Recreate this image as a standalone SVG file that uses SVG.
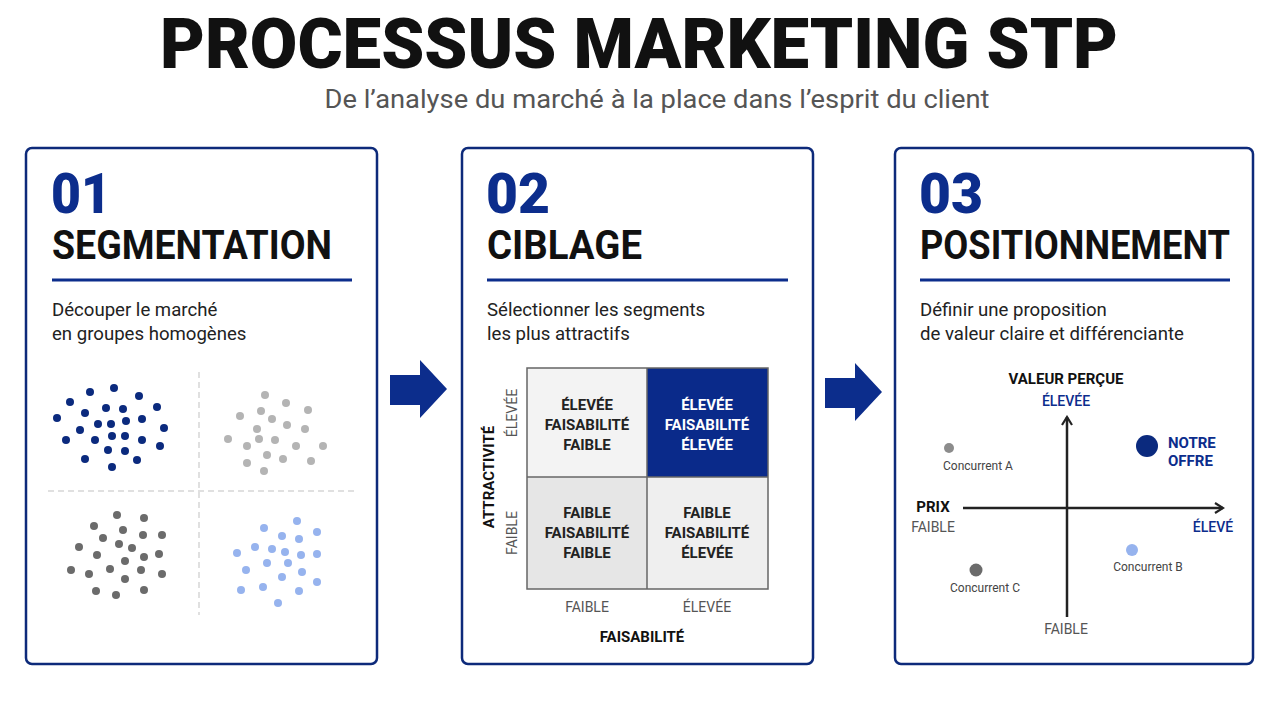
<svg xmlns="http://www.w3.org/2000/svg" width="1280" height="702" viewBox="0 0 1280 702">
<defs>
<style>
.panel{fill:#ffffff;stroke:#0d2a7a;stroke-width:2.5}
.num{font-family:Roboto,"Liberation Sans",sans-serif;font-weight:900;font-size:56px;fill:#0c2d8c}
.head{font-family:Roboto,"Liberation Sans",sans-serif;font-weight:700;font-size:40px;fill:#111}
.rule{stroke:#0c2d8c;stroke-width:3}
.desc{font-family:Roboto,"Liberation Sans",sans-serif;font-size:18.6px;fill:#222}
.cell{font-family:Roboto,"Liberation Sans",sans-serif;font-weight:700;font-size:15px;fill:#222;text-anchor:middle}
.cellw{font-family:Roboto,"Liberation Sans",sans-serif;font-weight:700;font-size:15px;fill:#ffffff;text-anchor:middle}
.ax{font-family:Roboto,"Liberation Sans",sans-serif;font-size:14px;fill:#555;text-anchor:middle}
.axb{font-family:Roboto,"Liberation Sans",sans-serif;font-weight:700;font-size:15px;fill:#111;text-anchor:middle}
.axn{font-family:Roboto,"Liberation Sans",sans-serif;font-weight:500;font-size:14px;fill:#0c2d8c;text-anchor:middle}
.lbl{font-family:Roboto,"Liberation Sans",sans-serif;font-size:12px;fill:#444;text-anchor:middle}
.dash{stroke:#d6d6d6;stroke-width:1.5;stroke-dasharray:6 4}
.d1{fill:#0b2a7e}.d2{fill:#b4b4b4}.d3{fill:#6b6b6b}.d4{fill:#96b3ee}
.arrow{fill:#0c2d8c}
.axis{stroke:#222;stroke-width:2.5;fill:none}
</style>
<marker id="chev" viewBox="0 0 12 12" refX="10" refY="6" markerWidth="12" markerHeight="12" markerUnits="userSpaceOnUse" orient="auto">
<path d="M2,1 L10,6 L2,11" fill="none" stroke="#222" stroke-width="2.2"/>
</marker>
</defs>
<rect width="1280" height="702" fill="#ffffff"/>

<g id="title">
<text x="160" y="68" font-family="Roboto,'Liberation Sans',sans-serif" font-weight="900" font-size="71" fill="#111" textLength="958" lengthAdjust="spacingAndGlyphs">PROCESSUS MARKETING STP</text>
<text x="657" y="108" font-family="Roboto,'Liberation Sans',sans-serif" font-size="25" fill="#555" text-anchor="middle" textLength="665" lengthAdjust="spacingAndGlyphs">De l’analyse du marché à la place dans l’esprit du client</text>
</g>

<g id="connectors">
<path class="arrow" d="M390,375 H420 V360 L447,389 L420,418 V405 H390 Z"/>
<path class="arrow" d="M825,378 H855 V363 L882,392 L855,421 V408 H825 Z"/>
</g>

<g id="segmentation">
<rect class="panel" x="26" y="148" width="351" height="516" rx="6"/>
<text class="num" x="51" y="213" textLength="60" lengthAdjust="spacingAndGlyphs">01</text>
<text class="head" x="52" y="259" textLength="280" lengthAdjust="spacingAndGlyphs">SEGMENTATION</text>
<line class="rule" x1="52" y1="280" x2="352" y2="280"/>
<text class="desc" x="52" y="316">Découper le marché</text>
<text class="desc" x="52" y="340">en groupes homogènes</text>
<line class="dash" x1="199" y1="372" x2="199" y2="615"/>
<line class="dash" x1="48" y1="491" x2="355" y2="491"/>
<g class="d1">
<circle cx="90" cy="392" r="4"/><circle cx="114" cy="388" r="4"/><circle cx="139" cy="396" r="4"/><circle cx="70" cy="402" r="4"/><circle cx="157" cy="407" r="4"/><circle cx="85" cy="413" r="4"/><circle cx="106" cy="408" r="4"/><circle cx="123" cy="409" r="4"/><circle cx="57" cy="418" r="4"/><circle cx="142" cy="419" r="4"/><circle cx="126" cy="421" r="4"/><circle cx="98" cy="424" r="4"/><circle cx="111" cy="424" r="4"/><circle cx="80" cy="430" r="4"/><circle cx="164" cy="428" r="4"/><circle cx="66" cy="440" r="4"/><circle cx="95" cy="440" r="4"/><circle cx="112" cy="436" r="4"/><circle cx="125" cy="436" r="4"/><circle cx="142" cy="440" r="4"/><circle cx="160" cy="446" r="4"/><circle cx="108" cy="450" r="4"/><circle cx="125" cy="451" r="4"/><circle cx="85" cy="459" r="4"/><circle cx="137" cy="460" r="4"/><circle cx="112" cy="467" r="4"/>
</g>
<g class="d2">
<circle cx="265" cy="395" r="4"/><circle cx="286" cy="403" r="4"/><circle cx="308" cy="410" r="4"/><circle cx="240" cy="416" r="4"/><circle cx="261" cy="411" r="4"/><circle cx="272" cy="419" r="4"/><circle cx="287" cy="425" r="4"/><circle cx="305" cy="429" r="4"/><circle cx="257" cy="429" r="4"/><circle cx="228" cy="439" r="4"/><circle cx="259" cy="439" r="4"/><circle cx="275" cy="440" r="4"/><circle cx="247" cy="446" r="4"/><circle cx="296" cy="446" r="4"/><circle cx="323" cy="446" r="4"/><circle cx="267" cy="455" r="4"/><circle cx="283" cy="459" r="4"/><circle cx="247" cy="463" r="4"/><circle cx="311" cy="461" r="4"/><circle cx="264" cy="471" r="4"/>
</g>
<g class="d3">
<circle cx="117" cy="515" r="4"/><circle cx="144" cy="518" r="4"/><circle cx="94" cy="526" r="4"/><circle cx="123" cy="530" r="4"/><circle cx="103" cy="538" r="4"/><circle cx="143" cy="535" r="4"/><circle cx="162" cy="535" r="4"/><circle cx="79" cy="547" r="4"/><circle cx="119" cy="544" r="4"/><circle cx="132" cy="548" r="4"/><circle cx="97" cy="555" r="4"/><circle cx="144" cy="557" r="4"/><circle cx="159" cy="554" r="4"/><circle cx="125" cy="561" r="4"/><circle cx="71" cy="570" r="4"/><circle cx="89" cy="574" r="4"/><circle cx="110" cy="569" r="4"/><circle cx="141" cy="570" r="4"/><circle cx="162" cy="574" r="4"/><circle cx="125" cy="579" r="4"/><circle cx="96" cy="591" r="4"/><circle cx="116" cy="595" r="4"/><circle cx="144" cy="590" r="4"/>
</g>
<g class="d4">
<circle cx="297" cy="521" r="4"/><circle cx="264" cy="528" r="4"/><circle cx="317" cy="532" r="4"/><circle cx="282" cy="536" r="4"/><circle cx="299" cy="539" r="4"/><circle cx="255" cy="547" r="4"/><circle cx="272" cy="549" r="4"/><circle cx="285" cy="552" r="4"/><circle cx="301" cy="555" r="4"/><circle cx="317" cy="554" r="4"/><circle cx="237" cy="553" r="4"/><circle cx="267" cy="563" r="4"/><circle cx="288" cy="563" r="4"/><circle cx="246" cy="570" r="4"/><circle cx="302" cy="572" r="4"/><circle cx="282" cy="577" r="4"/><circle cx="317" cy="582" r="4"/><circle cx="241" cy="590" r="4"/><circle cx="263" cy="587" r="4"/><circle cx="299" cy="591" r="4"/><circle cx="278" cy="603" r="4"/>
</g>
</g>

<g id="ciblage">
<rect class="panel" x="462" y="148" width="351" height="516" rx="6"/>
<text class="num" x="486" y="213" textLength="64" lengthAdjust="spacingAndGlyphs">02</text>
<text class="head" x="487" y="259" textLength="155" lengthAdjust="spacingAndGlyphs">CIBLAGE</text>
<line class="rule" x1="487" y1="280" x2="788" y2="280"/>
<text class="desc" x="487" y="316">Sélectionner les segments</text>
<text class="desc" x="487" y="340">les plus attractifs</text>
<rect x="527" y="368" width="120" height="109" fill="#f3f3f3"/>
<rect x="647" y="368" width="121" height="109" fill="#0a2a8a"/>
<rect x="527" y="477" width="120" height="112" fill="#e6e6e6"/>
<rect x="647" y="477" width="121" height="112" fill="#efefef"/>
<rect x="527" y="368" width="241" height="221" fill="none" stroke="#666" stroke-width="1.5"/>
<line x1="647" y1="368" x2="647" y2="589" stroke="#666" stroke-width="1.5"/>
<line x1="527" y1="477" x2="768" y2="477" stroke="#666" stroke-width="1.5"/>
<text class="cell" x="587" y="410">ÉLEVÉE</text>
<text class="cell" x="587" y="430">FAISABILITÉ</text>
<text class="cell" x="587" y="450">FAIBLE</text>
<text class="cellw" x="707" y="410">ÉLEVÉE</text>
<text class="cellw" x="707" y="430">FAISABILITÉ</text>
<text class="cellw" x="707" y="450">ÉLEVÉE</text>
<text class="cell" x="587" y="518">FAIBLE</text>
<text class="cell" x="587" y="538">FAISABILITÉ</text>
<text class="cell" x="587" y="558">FAIBLE</text>
<text class="cell" x="707" y="518">FAIBLE</text>
<text class="cell" x="707" y="538">FAISABILITÉ</text>
<text class="cell" x="707" y="558">ÉLEVÉE</text>
<text class="ax" x="587" y="612">FAIBLE</text>
<text class="ax" x="707" y="612">ÉLEVÉE</text>
<text class="axb" x="642" y="642">FAISABILITÉ</text>
<text class="axb" transform="translate(494,477) rotate(-90)" x="0" y="0">ATTRACTIVITÉ</text>
<text class="ax" transform="translate(517,413) rotate(-90)" x="0" y="0">ÉLEVÉE</text>
<text class="ax" transform="translate(517,533) rotate(-90)" x="0" y="0">FAIBLE</text>
</g>

<g id="positionnement">
<rect class="panel" x="895" y="148" width="358" height="516" rx="6"/>
<text class="num" x="919" y="213" textLength="64" lengthAdjust="spacingAndGlyphs">03</text>
<text class="head" x="920" y="259" textLength="310" lengthAdjust="spacingAndGlyphs">POSITIONNEMENT</text>
<line class="rule" x1="920" y1="280" x2="1230" y2="280"/>
<text class="desc" x="920" y="316">Définir une proposition</text>
<text class="desc" x="920" y="340">de valeur claire et différenciante</text>
<line class="axis" x1="1067" y1="617" x2="1067" y2="417" marker-end="url(#chev)"/>
<line class="axis" x1="963" y1="508" x2="1223" y2="508" marker-end="url(#chev)"/>
<text class="axb" x="1066" y="384" font-size="14">VALEUR PERÇUE</text>
<text class="axn" x="1066" y="406">ÉLEVÉE</text>
<text class="axb" x="933" y="512" font-size="14">PRIX</text>
<text class="ax" x="933" y="532">FAIBLE</text>
<text class="axn" x="1213" y="532">ÉLEVÉ</text>
<text class="ax" x="1066" y="634">FAIBLE</text>
<circle cx="949" cy="448" r="5" fill="#8c8c8c"/>
<text class="lbl" x="978" y="470">Concurrent A</text>
<circle cx="1147" cy="446" r="11" fill="#0b2a7e"/>
<text x="1168" y="448" font-family="Roboto,'Liberation Sans',sans-serif" font-weight="700" font-size="15" fill="#0c2d8c">NOTRE</text>
<text x="1168" y="466" font-family="Roboto,'Liberation Sans',sans-serif" font-weight="700" font-size="15" fill="#0c2d8c">OFFRE</text>
<circle cx="1132" cy="550" r="6" fill="#96b3ee"/>
<text class="lbl" x="1148" y="571">Concurrent B</text>
<circle cx="976" cy="570" r="6.5" fill="#6b6b6b"/>
<text class="lbl" x="985" y="592">Concurrent C</text>
</g>
</svg>
